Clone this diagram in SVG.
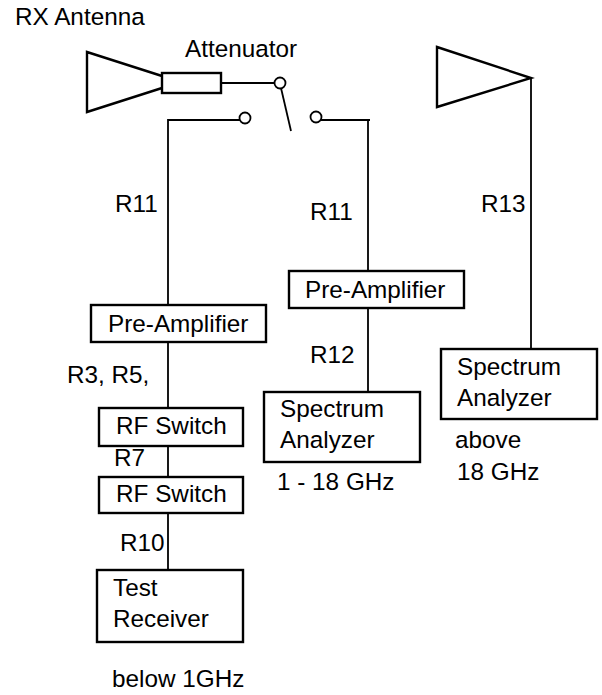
<svg xmlns="http://www.w3.org/2000/svg" width="602" height="695" viewBox="0 0 602 695">
<style>
text{font-family:"Liberation Sans",Arial,sans-serif;font-size:24.3px;fill:#000}
.s{fill:none;stroke:#000;stroke-width:2.4}
.l{fill:none;stroke:#000;stroke-width:1.8}
.c{fill:#fff;stroke:#000;stroke-width:1.8}
</style>
<rect width="602" height="695" fill="#fff"/>
<g id="connectors">
<path class="l" d="M221 83H275"/>
<path class="l" d="M281 88L291 131"/>
<path class="l" d="M168 305V120H240"/>
<path class="l" d="M321 120H370M368 120V271M368 308V392"/>
<path class="l" d="M168 342V408M168 446V477M168 513V570"/>
<path class="l" d="M531 78V349"/>
</g>
<g id="rx-antenna"><path class="s" d="M162 76L87 52V112L162 88"/><text x="15" y="25">RX Antenna</text></g>
<g id="attenuator"><rect class="s" x="162" y="73" width="59" height="20"/><text x="185" y="57">Attenuator</text></g>
<g id="switch"><circle class="c" cx="280" cy="83" r="5.5"/><circle class="c" cx="245" cy="118" r="5.5"/><circle class="c" cx="316" cy="117" r="5.5"/></g>
<g id="antenna2"><path class="s" d="M437 47L531 78L437 107Z"/></g>
<g id="preamp1"><rect class="s" x="91" y="305" width="175" height="37"/><text x="108" y="332">Pre-Amplifier</text></g>
<g id="preamp2"><rect class="s" x="289" y="271" width="175" height="37"/><text x="305" y="298">Pre-Amplifier</text></g>
<g id="switch1"><rect class="s" x="99" y="408" width="144" height="38"/><text x="116" y="434">RF Switch</text></g>
<g id="switch2"><rect class="s" x="99" y="477" width="144" height="36"/><text x="116" y="502">RF Switch</text></g>
<g id="receiver"><rect class="s" x="97" y="570" width="146" height="72"/><text x="113" y="596">Test</text><text x="113" y="627">Receiver</text></g>
<g id="analyzer1"><rect class="s" x="264" y="392" width="156" height="70"/><text x="280" y="417">Spectrum</text><text x="280" y="448">Analyzer</text></g>
<g id="analyzer2"><rect class="s" x="441" y="349" width="156" height="70"/><text x="457" y="375">Spectrum</text><text x="457" y="406">Analyzer</text></g>
<g id="labels">
<text x="115" y="212">R11</text><text x="310" y="220">R11</text><text x="481" y="212">R13</text>
<text x="310" y="363">R12</text><text x="67" y="383">R3, R5,</text><text x="114" y="466">R7</text><text x="120" y="551">R10</text>
<text x="277" y="490">1 - 18 GHz</text><text x="455" y="448">above</text><text x="457" y="480">18 GHz</text><text x="112" y="687">below 1GHz</text>
</g>
</svg>
